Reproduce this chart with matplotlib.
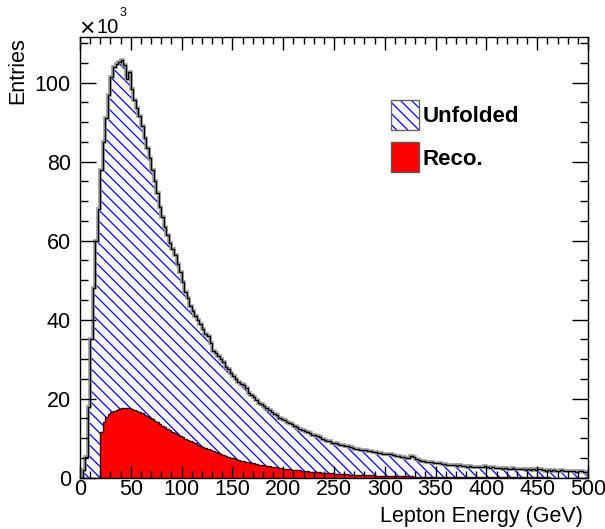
import matplotlib.pyplot as plt
import numpy as np
from matplotlib.patches import Patch

plt.rcParams['font.family'] = ['Liberation Sans', 'DejaVu Sans']
plt.rcParams['hatch.linewidth'] = 0.9

# Histogram binning: 200 bins of 2.5 GeV from 0 to 500
bin_edges = np.linspace(0, 500, 201)

# Unfolded lepton energy spectrum (entries / 1000)
unfolded = [
    0.0, 2.0, 5.3, 18.0, 35.0, 48.0, 60.0, 68.0, 78.0, 85.0,
    91.0, 97.0, 101.5, 104.0, 104.8, 105.3, 105.8, 104.5, 101.0, 102.8,
    98.5, 95.5, 93.5, 91.5, 89.0, 86.0, 83.5, 81.0, 78.0, 75.0,
    72.0, 68.5, 66.0, 63.5, 61.5, 59.5, 58.0, 56.5, 54.0, 52.0,
    49.5, 47.0, 45.5, 43.5, 42.3, 41.0, 40.0, 38.8, 37.6, 36.5,
    35.8, 34.0, 32.2, 31.5, 30.8, 30.0, 29.2, 28.0, 27.4, 26.5,
    25.7, 25.0, 24.3, 23.6, 23.4, 22.6, 21.5, 20.9, 20.4, 19.7,
    19.0, 18.6, 18.1, 17.6, 17.2, 16.6, 16.1, 15.8, 15.2, 14.9,
    14.6, 14.1, 13.9, 13.5, 13.1, 12.8, 12.4, 12.1, 11.8, 11.5,
    11.2, 10.9, 10.7, 10.5, 10.2, 9.9, 9.6, 9.3, 9.2, 8.9,
    8.8, 8.6, 8.4, 8.2, 8.1, 7.9, 7.7, 7.5, 7.3, 7.2,
    7.0, 6.9, 6.9, 6.7, 6.8, 6.6, 6.5, 6.3, 6.3, 6.1,
    6.0, 5.9, 5.9, 5.7, 5.6, 5.5, 5.3, 5.2, 5.1, 5.0,
    5.4, 5.2, 4.7, 4.6, 4.3, 4.3, 4.1, 4.0, 3.9, 3.8,
    3.7, 3.6, 3.5, 3.4, 3.3, 3.3, 3.1, 3.2, 3.0, 3.1,
    2.9, 2.9, 2.8, 2.9, 2.7, 2.8, 2.6, 2.7, 2.8, 3.0,
    2.6, 2.5, 2.6, 2.4, 2.5, 2.4, 2.3, 2.5, 2.3, 2.2,
    2.4, 2.2, 2.1, 2.3, 2.1, 2.0, 2.2, 2.0, 2.1, 1.9,
    2.1, 2.3, 1.9, 1.8, 2.0, 1.8, 1.9, 1.7, 1.8, 1.9,
    1.7, 1.6, 1.8, 1.6, 1.7, 1.5, 1.6, 1.7, 1.5, 1.4,
]

# Reconstructed lepton energy spectrum (entries / 1000)
reco = [
    0.0, 0.0, 0.0, 0.0, 0.0, 0.0, 0.0, 0.0, 11.5, 14.0,
    15.3, 16.1, 16.6, 17.0, 17.2, 17.4, 17.55, 17.6, 17.6, 17.55,
    17.4, 17.2, 17.0, 16.7, 16.4, 16.0, 15.6, 15.2, 14.8, 14.4,
    14.0, 13.6, 13.2, 12.8, 12.4, 12.0, 11.6, 11.3, 10.9, 10.6,
    10.2, 9.9, 9.6, 9.3, 9.0, 8.7, 8.4, 8.1, 7.8, 7.5,
    7.2, 6.95, 6.7, 6.45, 6.2, 5.95, 5.7, 5.5, 5.3, 5.1,
    4.9, 4.7, 4.5, 4.35, 4.2, 4.05, 3.9, 3.75, 3.6, 3.45,
    3.3, 3.2, 3.1, 3.0, 2.9, 2.8, 2.7, 2.6, 2.5, 2.4,
    2.3, 2.22, 2.14, 2.06, 1.98, 1.9, 1.83, 1.76, 1.69, 1.62,
    1.56, 1.5, 1.44, 1.38, 1.32, 1.27, 1.22, 1.17, 1.12, 1.08,
    1.04, 1.0, 0.96, 0.92, 0.88, 0.84, 0.81, 0.78, 0.75, 0.72,
    0.69, 0.66, 0.64, 0.61, 0.59, 0.57, 0.55, 0.53, 0.51, 0.49,
    0.47, 0.45, 0.43, 0.41, 0.4, 0.38, 0.37, 0.35, 0.34, 0.33,
    0.31, 0.3, 0.29, 0.28, 0.27, 0.26, 0.25, 0.24, 0.23, 0.22,
    0.21, 0.2, 0.19, 0.19, 0.18, 0.18, 0.17, 0.17, 0.16, 0.15,
    0.15, 0.14, 0.14, 0.14, 0.13, 0.13, 0.12, 0.12, 0.12, 0.11,
    0.11, 0.11, 0.1, 0.1, 0.1, 0.1, 0.09, 0.09, 0.09, 0.09,
    0.08, 0.08, 0.08, 0.08, 0.07, 0.07, 0.07, 0.07, 0.07, 0.06,
    0.06, 0.06, 0.06, 0.06, 0.06, 0.05, 0.05, 0.05, 0.05, 0.05,
    0.05, 0.05, 0.04, 0.04, 0.04, 0.04, 0.04, 0.04, 0.04, 0.04,
]

fig = plt.figure(figsize=(6.05, 5.29), dpi=100)
ax = fig.add_axes([80 / 605, 51.3 / 529, 508 / 605, 440.4 / 529])

# unfolded: hatched area, grey error band look, black outline
ax.stairs(unfolded, bin_edges, fill=True, facecolor='none', edgecolor='blue',
          hatch='\\\\\\', linewidth=0)
ax.stairs(unfolded, bin_edges, color='0.6', linewidth=2.6)
ax.stairs(unfolded, bin_edges, color='black', linewidth=0.9)

# reco: solid red
ax.stairs(reco, bin_edges, fill=True, facecolor='red', edgecolor='none')
ax.stairs(reco, bin_edges, color='#300000', linewidth=1.0)

ax.set_xlim(0, 500)
ax.set_ylim(0, 111.5)
ax.set_xticks(np.arange(0, 501, 50))
ax.set_xticks(np.arange(0, 501, 10), minor=True)
ax.set_yticks(np.arange(0, 101, 20))
ax.set_yticks(np.arange(0, 111, 5), minor=True)

ax.tick_params(axis='both', which='both', direction='in', top=True, right=True,
               labelsize=15.5, width=1.0)
ax.tick_params(axis='x', which='major', length=9, pad=1)
ax.tick_params(axis='x', which='minor', length=4.7)
ax.tick_params(axis='y', which='major', length=11.5, pad=6.5)
ax.tick_params(axis='y', which='minor', length=5.8)
for spine in ax.spines.values():
    spine.set_linewidth(1.0)

ax.set_xlabel('Lepton Energy (GeV)', fontsize=15.5, labelpad=3)
ax.xaxis.set_label_coords(0.99, -0.065)
ax.xaxis.label.set_horizontalalignment('right')
ax.set_ylabel('Entries', fontsize=15.5, loc='top', labelpad=5)

# ROOT style exponent "x10^3" above the y axis
ax.annotate('×', xy=(0, 1), xycoords='axes fraction', xytext=(-1, 1),
            textcoords='offset pixels', fontsize=19, ha='left', va='baseline')
ax.annotate('10', xy=(0, 1), xycoords='axes fraction', xytext=(16, 4),
            textcoords='offset pixels', fontsize=14.5, ha='left', va='baseline')
ax.annotate('3', xy=(0, 1), xycoords='axes fraction', xytext=(40, 21),
            textcoords='offset pixels', fontsize=9, ha='left', va='baseline')

unf_handle = (Patch(facecolor='white', edgecolor='blue', hatch='\\\\\\', linewidth=0),
              Patch(facecolor='none', edgecolor='0.4', linewidth=1.0))
reco_handle = Patch(facecolor='red', edgecolor='0.35', linewidth=1.0)
leg = ax.legend([unf_handle, reco_handle], ['Unfolded', 'Reco.'],
                loc='upper left', bbox_to_anchor=(0.612, 0.857), frameon=False,
                prop={'weight': 'bold', 'size': 16}, handlelength=1.26,
                handleheight=1.7, labelspacing=0.55, handletextpad=0.18,
                borderpad=0, borderaxespad=0)

fig.savefig('out.png', dpi=100)
